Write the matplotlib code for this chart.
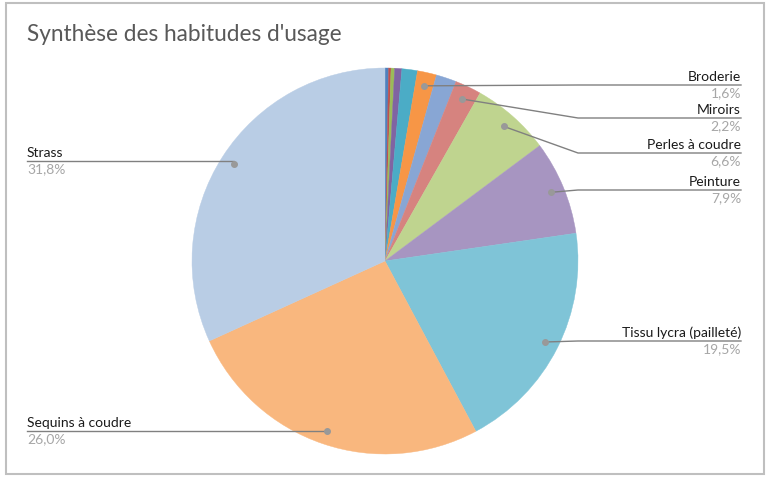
import matplotlib
matplotlib.use("Agg")
import matplotlib.pyplot as plt
import numpy as np

# ---- data ----
categories = ["Autre 1", "Autre 2", "Autre 3", "Autre 4", "Autre 5",
              "Broderie", "Autre 6", "Miroirs", "Perles à coudre", "Peinture",
              "Tissu lycra (pailleté)", "Sequins à coudre", "Strass"]
values = [0.3, 0.2, 0.3, 0.6, 1.3, 1.6, 1.7, 2.2, 6.6, 7.9, 19.5, 26.0, 31.8]
colors = ["#4F81BD", "#C0504D", "#9BBB59", "#8064A2", "#4BACC6", "#F79646",
          "#88A6D4", "#D6837F", "#BFD48F", "#A795C1", "#7FC4D7", "#F9B77E",
          "#B9CDE5"]
title = "Synthèse des habitudes d'usage"

# ---- layout (pixel coords, y measured from top of image) ----
W, H = 768, 478
CX, CY, R = 385, 261, 193
label_layout = {
    "Broderie": ("right", 85),
    "Miroirs": ("right", 118),
    "Perles à coudre": ("right", 153),
    "Peinture": ("right", 190),
    "Tissu lycra (pailleté)": ("right", 341),
    "Sequins à coudre": ("left", 431),
    "Strass": ("left", 161),
}
RIGHT_X, LEFT_X, ELBOW_X = 741, 27, 578

plt.rcParams['font.family'] = ['Lato', 'DejaVu Sans']
fig = plt.figure(figsize=(W / 100, H / 100), dpi=100)
ax = fig.add_axes([0, 0, 1, 1])

wedges, _ = ax.pie(values, colors=colors, startangle=90, counterclock=False,
                   center=(CX, H - CY), radius=R)
for w, c in zip(wedges, colors):
    w.set_edgecolor(c)
    w.set_linewidth(0.3)
ax.set_xlim(0, W)
ax.set_ylim(0, H)
ax.set_aspect('equal')
ax.axis('off')

# chart border
ax.add_patch(plt.Rectangle((6, H - 474), 758, 471, fill=False,
                           edgecolor="#BFBFBF", linewidth=1.5, zorder=0))

# title
ax.text(LEFT_X, H - 41, title, fontsize=16.3, color="#595959",
        ha="left", va="baseline")

total = sum(values)
cum = 0.0
for name, v in zip(categories, values):
    mid = (cum + v / 2) / total * 2 * np.pi
    cum += v
    if name not in label_layout:
        continue
    side, ly = label_layout[name]
    dx = CX + 0.93 * R * np.sin(mid)
    dy = (H - CY) + 0.93 * R * np.cos(mid)
    lyu = H - ly
    if side == "right":
        ex = max(dx, ELBOW_X)
        xs = [dx, ex, RIGHT_X]
        tx, ha = RIGHT_X, "right"
    else:
        ex = dx
        xs = [dx, ex, LEFT_X]
        tx, ha = LEFT_X, "left"
    ax.plot(xs, [dy, lyu, lyu], color="#808080", linewidth=1.0, zorder=5,
            solid_joinstyle="round")
    ax.plot([dx], [dy], "o", color="#999999", markersize=4, zorder=6)
    pct = f"{v:.1f}".replace(".", ",") + "%"
    ax.text(tx, lyu + 2.0, name, fontsize=10, color="#1A1A1A", ha=ha,
            va="bottom")
    ax.text(tx, lyu - 2.0, pct, fontsize=10, color="#A6A6A6", ha=ha,
            va="top")

fig.savefig("out.png", dpi=100)
